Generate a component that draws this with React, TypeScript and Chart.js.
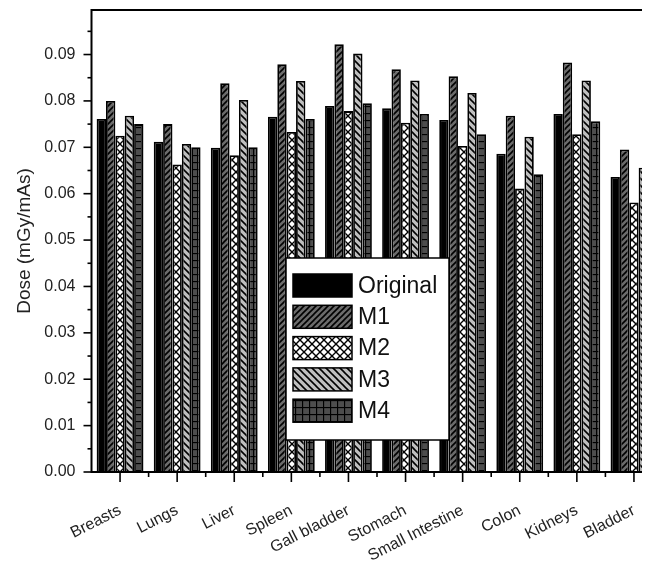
import React, { useEffect, useRef } from 'react';
import { Chart, registerables } from 'chart.js';

Chart.register(...registerables);

const categories = ['Breasts', 'Lungs', 'Liver', 'Spleen', 'Gall bladder', 'Stomach', 'Small Intestine', 'Colon', 'Kidneys', 'Bladder'];
const seriesNames = ['Original', 'M1', 'M2', 'M3', 'M4'];
const original = [0.0761, 0.0712, 0.0699, 0.0766, 0.0789, 0.0784, 0.0759, 0.0686, 0.0772, 0.0636];
const m1 = [0.0800, 0.0750, 0.0838, 0.0879, 0.0922, 0.0868, 0.0853, 0.0768, 0.0883, 0.0695];
const m2 = [0.0725, 0.0663, 0.0683, 0.0733, 0.0778, 0.0753, 0.0703, 0.0611, 0.0728, 0.0581];
const m3 = [0.0768, 0.0707, 0.0802, 0.0843, 0.0902, 0.0844, 0.0817, 0.0723, 0.0844, 0.0656];
const m4 = [0.0750, 0.0700, 0.0700, 0.0761, 0.0795, 0.0772, 0.0728, 0.0642, 0.0756, 0.0606];
const yTicks = [0, 0.01, 0.02, 0.03, 0.04, 0.05, 0.06, 0.07, 0.08, 0.09];
const yMinorTicks = [0.005, 0.015, 0.025, 0.035, 0.045, 0.055, 0.065, 0.075, 0.085, 0.095];
const yMax = 0.0996;
const yTitle = 'Dose (mGy/mAs)';

const FONT = 'Arial, "Liberation Sans", sans-serif';

function makePattern(kind: string): CanvasPattern | string {
  const s = kind === 'cross' ? 8 : kind === 'grid' ? 7 : kind === 'back' ? 7 : 6;
  const c = document.createElement('canvas');
  c.width = s;
  c.height = s;
  const g = c.getContext('2d');
  if (!g) return '#888';
  const bg = kind === 'fwd' ? '#6b6b6b' : kind === 'cross' ? '#ffffff' : kind === 'back' ? '#bfbfbf' : '#4d4d4d';
  g.fillStyle = bg;
  g.fillRect(0, 0, s, s);
  g.strokeStyle = '#000';
  g.lineCap = 'square';
  const line = (x1: number, y1: number, x2: number, y2: number) => {
    g.beginPath();
    g.moveTo(x1, y1);
    g.lineTo(x2, y2);
    g.stroke();
  };
  if (kind === 'fwd' || kind === 'cross') {
    g.lineWidth = kind === 'cross' ? 1.4 : 1.6;
    line(0, s, s, 0);
    line(-s, s, s, -s);
    line(0, 2 * s, 2 * s, 0);
  }
  if (kind === 'back' || kind === 'cross') {
    g.lineWidth = kind === 'cross' ? 1.4 : 1.6;
    line(0, 0, s, s);
    line(-s, 0, s, 2 * s);
    line(0, -s, 2 * s, s);
  }
  if (kind === 'grid') {
    g.lineWidth = 1.3;
    line(0, 0.5, s, 0.5);
    line(0.5, 0, 0.5, s);
  }
  return g.createPattern(c, 'repeat') || bg;
}

const framePlugin = {
  id: 'frameAndLegend',
  afterDraw(chart: any) {
    const { ctx, chartArea, scales } = chart;
    const { left, right, top, bottom } = chartArea;
    const x = scales.x;
    const y = scales.y;
    ctx.save();
    ctx.strokeStyle = '#000';
    ctx.lineWidth = 2;
    ctx.strokeRect(left, top, right - left, bottom - top);
    const seg = (x1: number, y1: number, x2: number, y2: number) => {
      ctx.beginPath();
      ctx.moveTo(x1, y1);
      ctx.lineTo(x2, y2);
      ctx.stroke();
    };
    ctx.lineWidth = 1.6;
    yTicks.forEach((v) => {
      const py = y.getPixelForValue(v);
      seg(left - 8, py, left, py);
    });
    yMinorTicks.forEach((v) => {
      const py = y.getPixelForValue(v);
      seg(left - 4, py, left, py);
    });
    categories.forEach((_, i) => {
      const px = x.getPixelForValue(i);
      seg(px, bottom, px, bottom + 10);
      const pb = x.getPixelForValue(i + 0.5);
      seg(pb, bottom, pb, bottom + 5);
    });

    // legend box
    const bx = 278;
    const by = 250;
    const bw = 163;
    const bh = 182;
    ctx.fillStyle = '#fff';
    ctx.fillRect(bx, by, bw, bh);
    ctx.lineWidth = 1.5;
    ctx.strokeRect(bx, by, bw, bh);
    chart.data.datasets.forEach((ds: any, i: number) => {
      const sy = by + 16 + i * 31.3;
      ctx.fillStyle = ds.backgroundColor;
      ctx.fillRect(bx + 7, sy, 59, 23);
      ctx.lineWidth = 1.5;
      ctx.strokeStyle = '#000';
      ctx.strokeRect(bx + 7, sy, 59, 23);
      ctx.fillStyle = '#111';
      ctx.font = '23px ' + FONT;
      ctx.textBaseline = 'middle';
      ctx.textAlign = 'left';
      ctx.fillText(ds.label, bx + 72, sy + 12.5);
    });
    ctx.restore();
  },
};

export default function App() {
  const ref = useRef<HTMLCanvasElement | null>(null);
  useEffect(() => {
    if (!ref.current) return;
    const fills = [
      '#000000',
      makePattern('fwd'),
      makePattern('cross'),
      makePattern('back'),
      makePattern('grid'),
    ];
    const values = [original, m1, m2, m3, m4];
    const chart = new Chart(ref.current, {
      type: 'bar',
      data: {
        labels: categories,
        datasets: seriesNames.map((name, i) => ({
          label: name,
          data: values[i],
          backgroundColor: fills[i] as any,
          borderColor: '#000',
          borderWidth: 1.8,
          categoryPercentage: 0.82,
          barPercentage: 1.0,
        })),
      },
      options: {
        responsive: false,
        animation: false,
        devicePixelRatio: 1,
        layout: { padding: { left: 0, right: 15.5, top: 2, bottom: 0 } },
        plugins: {
          legend: { display: false },
          tooltip: { enabled: false },
        },
        scales: {
          x: {
            grid: { display: false },
            border: { display: false },
            ticks: {
              minRotation: 27,
              maxRotation: 27,
              padding: 21,
              color: '#222',
              font: { family: FONT, size: 16 },
              autoSkip: false,
            },
            afterFit: (scale: any) => {
              scale.height = 88;
              scale.paddingLeft = 0;
              scale.paddingRight = 0;
              scale.paddingTop = 0;
              scale.paddingBottom = 0;
            },
          },
          y: {
            min: 0,
            max: yMax,
            grid: { display: false },
            border: { display: false },
            afterBuildTicks: (scale: any) => {
              scale.ticks = yTicks.map((v) => ({ value: v }));
            },
            ticks: {
              padding: 8,
              color: '#222',
              font: { family: FONT, size: 16 },
              callback: (v: any) => Number(v).toFixed(2),
            },
            title: {
              display: true,
              text: yTitle,
              color: '#222',
              font: { family: FONT, size: 19 },
              padding: { top: 5, bottom: 0 },
            },
            afterFit: (scale: any) => {
              scale.width = 83.5;
              scale.paddingTop = 0;
              scale.paddingBottom = 0;
              scale.paddingLeft = 0;
              scale.paddingRight = 0;
            },
          },
        },
      },
      plugins: [framePlugin],
    });
    return () => chart.destroy();
  }, []);
  return (
    <div style={{ width: 642, height: 552, overflow: 'hidden' }}>
      <canvas ref={ref} width={670} height={552} style={{ display: 'block' }} />
    </div>
  );
}
